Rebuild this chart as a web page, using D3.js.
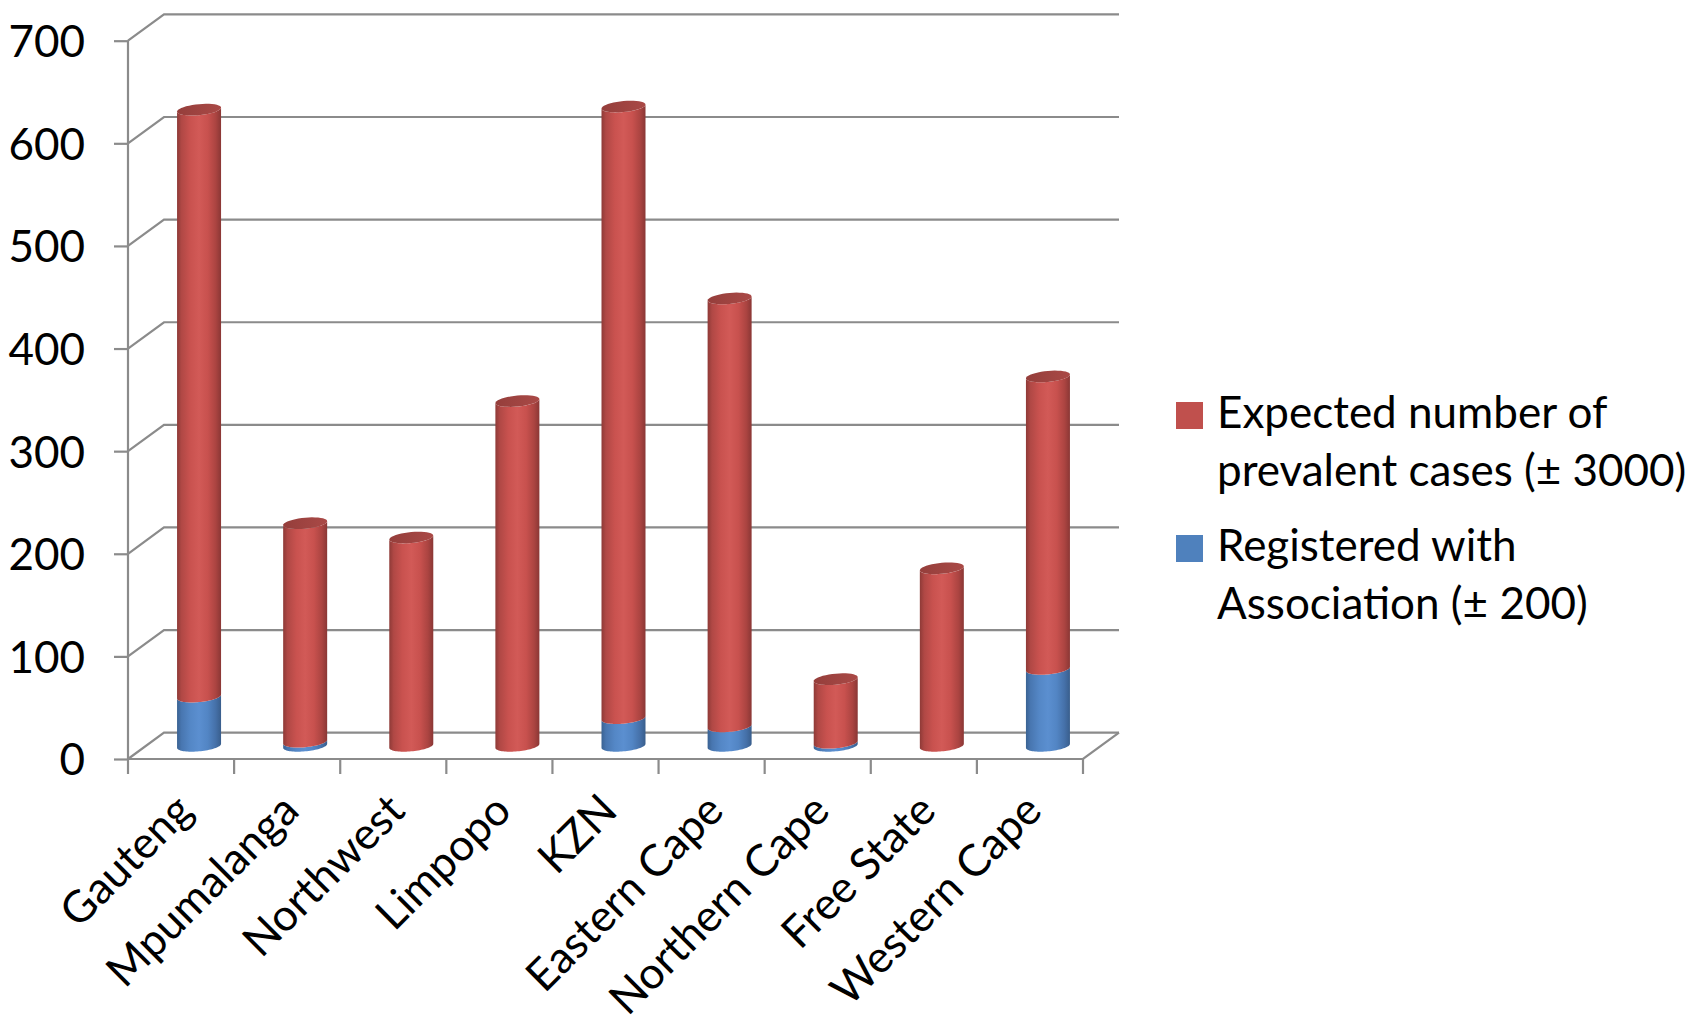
<!DOCTYPE html>
<html>
<head>
<meta charset="utf-8">
<script src="https://cdn.jsdelivr.net/npm/d3@7"></script>
<style>
  html, body { margin: 0; padding: 0; background: #fff; }
  svg { display: block; }
  text { font-family: Lato, "Open Sans", sans-serif; fill: #000; }
</style>
</head>
<body>
<svg id="chart" width="1692" height="1023"></svg>
<script>
// Provinces along the category axis
const categories = ["Gauteng", "Mpumalanga", "Northwest", "Limpopo", "KZN",
                    "Eastern Cape", "Northern Cape", "Free State", "Western Cape"];
// Patients registered with the association (bottom of each stack)
const registered = [48, 4, 0, 0, 27, 19, 3, 0, 75];
// Remaining expected prevalent cases (stacked above the registered part)
const expectedRest = [572, 213, 203, 336, 596, 417, 62, 173, 285];
// Value axis ticks
const yTicks = [0, 100, 200, 300, 400, 500, 600, 700];
// Legend entries
const seriesNames = ["Expected number of|prevalent cases (± 3000)",
                     "Registered with|Association (± 200)"];

const svg = d3.select("#chart");

// Front plane of the 3-D box and the depth offset to its back wall
const front = { left: 128, right: 1083, top: 40.7, bottom: 759 };
const depth = { x: 36, y: -26.3 };

const x = d3.scaleBand().domain(categories).range([front.left, front.right]).padding(0);
const y = d3.scaleLinear().domain([0, 700]).range([front.bottom, front.top]);

const gridColor = "#8b8b8b";

// ---- walls: gridlines on the back wall with diagonals to the front axis
const grid = svg.append("g").attr("stroke", gridColor).attr("stroke-width", 2.2).attr("fill", "none");
yTicks.forEach(v => {
  const yf = y(v), yb = y(v) + depth.y;
  grid.append("path").attr("d", d3.line()([
    [front.left, yf], [front.left + depth.x, yb], [front.right + depth.x, yb]
  ]));
});
// floor: front edge and right side
grid.append("path").attr("d", d3.line()([
  [front.left, y(0)], [front.right, y(0)], [front.right + depth.x, y(0) + depth.y]
]));

// ---- value axis
const yAxis = d3.axisLeft(y).tickValues(yTicks).tickSize(14).tickPadding(29).tickFormat(d3.format("d"));
const yg = svg.append("g").attr("transform", `translate(${front.left},0)`).call(yAxis);
yg.select(".domain").attr("stroke", gridColor).attr("stroke-width", 2.2)
  .attr("d", `M0,${y(0)}V${y(700)}`);
yg.selectAll(".tick line").attr("stroke", gridColor).attr("stroke-width", 2.2);
yg.selectAll(".tick text").attr("font-size", 44).attr("font-family", "Lato").attr("fill", "#000")
  .attr("dy", "0.36em");

// ---- category axis: boundary ticks and rotated labels
const xg = svg.append("g");
const bounds = categories.map(c => x(c)).concat([front.right]);
xg.selectAll("line").data(bounds).join("line")
  .attr("x1", d => d).attr("x2", d => d)
  .attr("y1", y(0)).attr("y2", y(0) + 15)
  .attr("stroke", gridColor).attr("stroke-width", 2.2);
xg.selectAll("text").data(categories).join("text")
  .attr("transform", d => `translate(${x(d) + x.bandwidth() / 2 + 14},${y(0) + 54}) rotate(-45)`)
  .attr("text-anchor", "end")
  .attr("font-size", 44)
  .text(d => d);

// ---- cylinders
const defs = svg.append("defs");
function cylGradient(id, stops) {
  const g = defs.append("linearGradient").attr("id", id)
    .attr("x1", 0).attr("x2", 1).attr("y1", 0).attr("y2", 0);
  stops.forEach(([o, c]) => g.append("stop").attr("offset", o).attr("stop-color", c));
}
cylGradient("redBody", [[0, "#8e3a37"], [0.1, "#b04845"], [0.3, "#c9524f"], [0.5, "#d25a57"],
                        [0.7, "#c8514e"], [0.88, "#ab4441"], [1, "#8a3735"]]);
cylGradient("blueBody", [[0, "#3a6292"], [0.1, "#4876b0"], [0.3, "#5487c6"], [0.5, "#5b8fd0"],
                         [0.7, "#5285c4"], [0.88, "#4570a8"], [1, "#395e8c"]]);
cylGradient("redTop", [[0, "#953e3b"], [0.6, "#a14542"], [1, "#aa4946"]]);

const stackData = categories.map((c, i) => ({ cat: c, registered: registered[i], expected: expectedRest[i] }));
const series = d3.stack().keys(["registered", "expected"])(stackData);
const fills = { registered: "url(#blueBody)", expected: "url(#redBody)" };

const rx = 22, ry = 5.5, skew = 0.09;
const mid = { x: depth.x / 2, y: depth.y / 2 };
// point on the (slightly sheared) ellipse that bounds a cylinder slice
const ep = (cx, cy, t) => [cx + rx * Math.cos(t), cy + ry * Math.sin(t) - skew * rx * Math.cos(t)];
const arc = (cx, cy, t0, t1) => d3.range(0, 41).map(k => ep(cx, cy, t0 + (t1 - t0) * k / 40));

function bodyPath(cx, yTop, yBot) {
  const pts = [ep(cx, yTop, Math.PI)]
    .concat(arc(cx, yBot, Math.PI, 0))        // front half of bottom rim
    .concat(arc(cx, yTop, 0, Math.PI));       // front half of top rim
  return d3.line()(pts) + "Z";
}
function capPath(cx, cy) {
  return d3.line()(arc(cx, cy, 0, 2 * Math.PI)) + "Z";
}

const bars = svg.append("g");
series.forEach(s => {
  bars.append("g").selectAll("path").data(s.filter(d => d[1] > d[0])).join("path")
    .attr("d", d => {
      const cx = x(d.data.cat) + x.bandwidth() / 2 + mid.x;
      return bodyPath(cx, y(d[1]) + mid.y, y(d[0]) + mid.y);
    })
    .attr("fill", fills[s.key]);
});
// top caps on the highest slice of every stack
const topSeries = series[series.length - 1];
bars.append("g").selectAll("path").data(topSeries).join("path")
  .attr("d", d => capPath(x(d.data.cat) + x.bandwidth() / 2 + mid.x, y(d[1]) + mid.y))
  .attr("fill", "url(#redTop)");

// ---- legend
const legend = svg.append("g").attr("transform", "translate(1176,0)");
const legColors = ["#c0504d", "#4f81bd"];
const legTop = [402, 535];
seriesNames.forEach((name, i) => {
  legend.append("rect").attr("x", 0).attr("y", legTop[i]).attr("width", 27).attr("height", 27)
    .attr("fill", legColors[i]);
  name.split("|").forEach((line, j) => {
    legend.append("text").attr("x", 41).attr("y", legTop[i] + 26 + j * 57.5)
      .attr("font-size", 44).text(line);
  });
});
</script>
</body>
</html>
